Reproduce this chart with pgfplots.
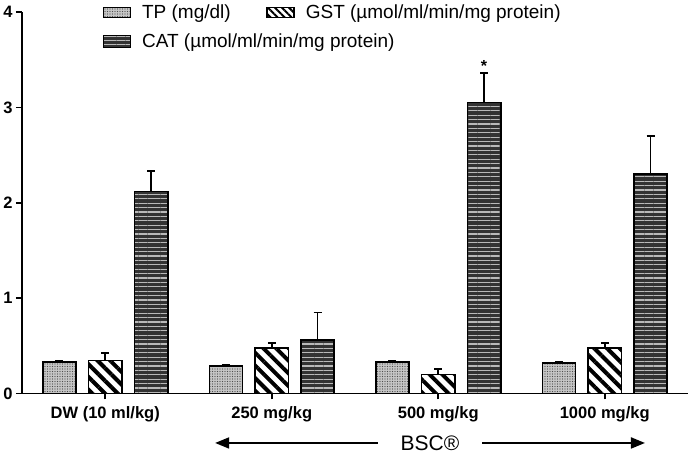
\documentclass[border=0pt]{standalone}
\usepackage{fontspec}
\setmainfont{Liberation Sans}
\usepackage{pgfplots}
\pgfplotsset{compat=1.18}
\usetikzlibrary{patterns,patterns.meta,arrows.meta}

\tikzset{
  tpstyle/.style={draw=black, line width=1.6pt, preaction={fill=gray!45}, pattern={Dots[distance=2.5pt,radius=0.6pt]}, pattern color=black!70},
  gststyle/.style={draw=black, line width=1.6pt, preaction={fill=white}, pattern={Lines[angle=-45,distance=9pt,line width=4pt]}, pattern color=black},
  catstyle/.style={draw=black, line width=1.6pt, preaction={fill=black!80}, pattern={Lines[angle=0,distance=4.4pt,line width=1.2pt]}, pattern color=gray!55},
}

\begin{document}
\begin{tikzpicture}
\begin{axis}[
  at={(0,0)}, anchor=south west,
  scale only axis, width=666pt, height=381.5pt,
  xmin=-0.5, xmax=3.5, ymin=0, ymax=4,
  axis lines*=left,
  axis line style={line width=1.7pt},
  xtick={0,1,2,3},
  xticklabels={{DW (10 ml/kg)},{250 mg/kg},{500 mg/kg},{1000 mg/kg}},
  ytick={0,1,2,3,4},
  tick align=outside, major tick length=6pt,
  tick style={line width=1.6pt, black},
  ticklabel style={font=\fontsize{16.5}{18}\selectfont\bfseries},
  xticklabel style={yshift=-4pt},
  /pgf/number format/assume math mode=true,
  ybar=12.5pt, bar width=33.3pt,
  clip=false,
  legend style={at={(axis description cs:0.117,1.03)}, anchor=north west, draw=none, fill=none,
    font=\fontsize{19}{21}\selectfont, legend columns=2, column sep=0pt, row sep=10pt,
    /tikz/every odd column/.append style={column sep=9pt},
    /tikz/every even column/.append style={column sep=33pt}},
  legend cell align=left,
  error bars/y dir=plus, error bars/y explicit,
  error bars/error bar style={line width=1.6pt, black},
  error bars/error mark options={line width=1.6pt, mark size=4pt, black, rotate=90},
]
\addplot[tpstyle, legend image code/.code={\draw[tpstyle, line width=1pt] (0pt,-5pt) rectangle (27pt,5pt);}]
  coordinates {(0,0.33) +- (0,0.01) (1,0.29) +- (0,0.01) (2,0.33) +- (0,0.01) (3,0.32) +- (0,0.01)};
\addlegendentry{TP (mg/dl)}
\addplot[gststyle, legend image code/.code={\draw[gststyle, line width=1pt, pattern={Lines[angle=-45,distance=5pt,line width=2pt]}] (0pt,-5pt) rectangle (27pt,5pt);}]
  coordinates {(0,0.344) +- (0,0.08) (1,0.48) +- (0,0.05) (2,0.20) +- (0,0.057) (3,0.48) +- (0,0.05)};
\addlegendentry{GST (µmol/ml/min/mg protein)}
\addplot[catstyle, legend image code/.code={\draw[catstyle, line width=1pt] (0pt,-6pt) rectangle (27pt,6pt);}]
  coordinates {(0,2.12) +- (0,0.21) (1,0.558) +- (0,0.29) (2,3.05) +- (0,0.31) (3,2.30) +- (0,0.40)};
\addlegendentry{\makebox[0pt][l]{CAT (µmol/ml/min/mg protein)}}
\node[font=\fontsize{16}{18}\selectfont\bfseries, anchor=south, inner sep=0pt, xshift=45.8pt, yshift=1pt] at (axis cs:2,3.36) {*};
\draw[line width=1.8pt, {Triangle[length=14pt,width=11pt]}-] (axis description cs:0.290,-0.1297) -- (axis description cs:0.5345,-0.1297);
\draw[line width=1.8pt, -{Triangle[length=14pt,width=11pt]}] (axis description cs:0.6907,-0.1297) -- (axis description cs:0.9354,-0.1297);
\node[font=\fontsize{21}{24}\selectfont] at (axis description cs:0.6126,-0.1297) {BSC®};
\end{axis}
\pgfresetboundingbox
\path (-22pt,-60.5pt) rectangle (666pt,393.5pt);
\end{tikzpicture}
\end{document}
